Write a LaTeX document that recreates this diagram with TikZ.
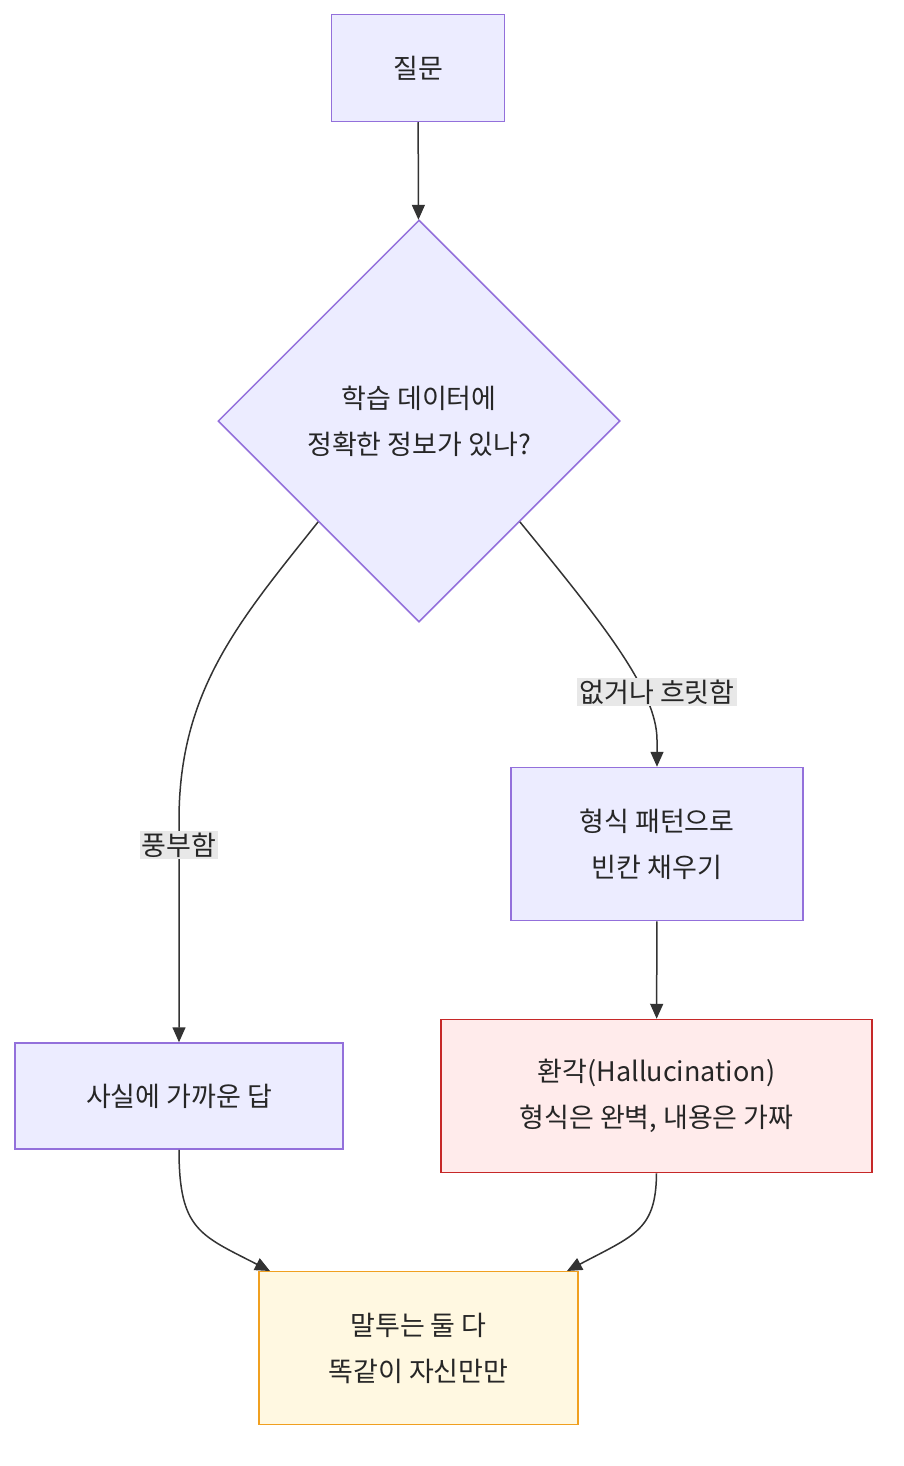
\documentclass[tikz,border=0pt]{standalone}
\usepackage{fontspec}
\setmainfont{Noto Sans CJK KR}
\usetikzlibrary{shapes.geometric,arrows.meta,positioning}
\definecolor{boxfill}{HTML}{ECECFF}
\definecolor{boxline}{HTML}{9370DB}
\definecolor{errfill}{HTML}{FFEBEB}
\definecolor{errline}{HTML}{C62828}
\definecolor{endfill}{HTML}{FFF8E1}
\definecolor{endline}{HTML}{F0A020}
\definecolor{lblfill}{HTML}{E8E8E8}
\tikzset{
  box/.style={draw=boxline, fill=boxfill, line width=1.5pt, align=center, inner sep=0pt},
  edge/.style={draw=black!80, line width=1.5pt, -{Triangle[length=15pt,width=13pt]}},
  lbl/.style={fill=lblfill, inner sep=2pt}
}
\begin{document}
\begin{tikzpicture}[x=1pt, y=-1pt, font=\fontsize{27}{46}\selectfont, text=black!85]
  \useasboundingbox (0,0) rectangle (904,1466);
	\node[box, minimum width=173pt, minimum height=107pt] (q) at (418,68) {질문};
	\node[box, diamond, minimum width=402pt, minimum height=402pt] (dec) at (419,421) {학습 데이터에\\정확한 정보가 있나?};
	\node[box, minimum width=292pt, minimum height=153pt] (fill) at (657,844) {형식 패턴으로\\빈칸 채우기};
	\node[box, minimum width=328pt, minimum height=106pt] (fact) at (179,1096) {사실에 가까운 답};
	\node[box, draw=errline, fill=errfill, minimum width=431pt, minimum height=153pt] (hall) at (656.5,1096) {환각(Hallucination)\\형식은 완벽, 내용은 가짜};
	\node[box, draw=endline, fill=endfill, minimum width=319pt, minimum height=153pt] (tone) at (418.5,1348) {말투는 둘 다\\똑같이 자신만만};
	\draw[edge] (q) -- (dec);
	\draw[edge] (dec.south west) .. controls (240,620) and (179,690) .. (179,820) -- (fact);
	\draw[edge] (dec.south east) .. controls (600,620) and (657,690) .. (657,740) -- (fill);
	\draw[edge] (fill) -- (hall);
	\draw[edge] (fact.south) .. controls (179,1230) and (200,1235) .. (270,1271);
	\draw[edge] (hall.south) .. controls (656,1230) and (635,1235) .. (567,1271);
	\node[lbl] (rich) at (179,845) {풍부함};
	\node[lbl] (vague) at (657,692) {없거나 흐릿함};
\end{tikzpicture}
\end{document}
